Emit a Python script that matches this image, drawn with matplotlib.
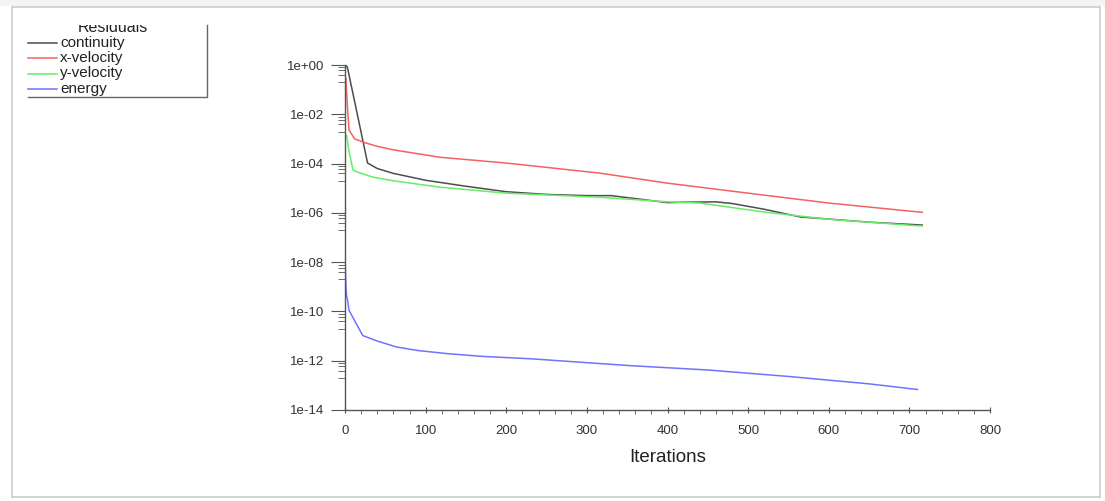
import numpy as np
import matplotlib.pyplot as plt
from matplotlib.lines import Line2D
from matplotlib.patches import Rectangle
from matplotlib.ticker import FixedLocator, MultipleLocator

plt.rcParams['font.family'] = ['Liberation Sans', 'DejaVu Sans']

# residuals (iteration, value)
it_cont = [0, 1, 3, 28, 40, 60, 100, 150, 200, 250, 300, 330, 360, 400, 420, 460, 480, 520, 565, 600, 650, 716]
continuity = [1.0, 1.0, 8e-1, 1.05e-4, 6.3e-5, 4.0e-5, 2.1e-5, 1.2e-5, 7.2e-6, 5.6e-6, 5.0e-6, 5.0e-6, 3.8e-6, 2.6e-6, 2.7e-6, 2.8e-6, 2.4e-6, 1.4e-6, 6.8e-7, 5.6e-7, 4.2e-7, 3.2e-7]

it_xvel = [0, 1, 3, 5, 12, 25, 40, 60, 118, 200, 316, 400, 500, 600, 716]
x_velocity = [2.5e-1, 3e-1, 2e-2, 2.3e-3, 1.0e-3, 7.0e-4, 5.0e-4, 3.6e-4, 1.8e-4, 1.05e-4, 4.1e-5, 1.6e-5, 6.3e-6, 2.5e-6, 1.05e-6]

it_yvel = [0, 2, 5, 10, 20, 35, 60, 118, 200, 316, 400, 440, 523, 600, 716]
y_velocity = [1.2e-3, 1.4e-3, 3e-4, 5.4e-5, 4.0e-5, 2.8e-5, 2.0e-5, 1.1e-5, 6.3e-6, 4.3e-6, 2.8e-6, 2.5e-6, 1.05e-6, 5.5e-7, 2.9e-7]

it_energy = [0, 1, 2, 3, 5, 22, 40, 64, 90, 126, 170, 230, 354, 450, 550, 650, 710]
energy = [2.2e-8, 1.3e-9, 4.0e-10, 3.2e-10, 1.1e-10, 1.05e-11, 6.3e-12, 3.6e-12, 2.6e-12, 1.95e-12, 1.5e-12, 1.2e-12, 6.3e-13, 4.2e-13, 2.3e-13, 1.15e-13, 6.8e-14]

series = [
    ('continuity', it_cont, continuity, '#4d4d4d'),
    ('x-velocity', it_xvel, x_velocity, '#f26262'),
    ('y-velocity', it_yvel, y_velocity, '#66ee66'),
    ('energy', it_energy, energy, '#7272ff'),
]

fig = plt.figure(figsize=(11.05, 5.01), dpi=100)
ax = fig.add_axes([345 / 1105, 1 - 410 / 501, 645 / 1105, 345 / 501])

for name, x, y, col in series:
    ax.plot(x, y, color=col, lw=1.1)

ax.set_yscale('log')
ax.set_xlim(0, 800)
ax.set_ylim(1e-14, 1)

ax.set_yticks([10.0 ** -k for k in range(0, 15, 2)])
ax.set_yticklabels(['1e+00', '1e-02', '1e-04', '1e-06', '1e-08', '1e-10', '1e-12', '1e-14'])
minors = [f * 10.0 ** -k for k in range(0, 13, 2) for f in (0.8, 0.6, 0.4, 0.2)]
ax.yaxis.set_minor_locator(FixedLocator(minors))
ax.yaxis.set_minor_formatter(plt.NullFormatter())
ax.xaxis.set_major_locator(MultipleLocator(100))
ax.xaxis.set_minor_locator(MultipleLocator(20))

for s in ['top', 'right']:
    ax.spines[s].set_visible(False)
for s in ['left', 'bottom']:
    ax.spines[s].set_color('#555555')
    ax.spines[s].set_linewidth(1.0)

ax.tick_params(axis='y', which='major', length=10, color='#555555', labelsize=9.5, labelcolor='#333333', pad=5)
ax.tick_params(axis='y', which='minor', length=5, color='#555555')
ax.tick_params(axis='x', which='major', length=5, color='#555555', direction='inout', labelsize=9.5, labelcolor='#333333', pad=8)
ax.tick_params(axis='x', which='minor', length=3, color='#555555')
ax.set_xlabel('Iterations', fontsize=13.5, color='#222222', labelpad=9)

# legend drawn like the solver window
H = 501.0
W = 1105.0
def fx(px):
    return px / W
def fy(py):
    return 1 - py / H

title = fig.text(fx(113), fy(32), 'Residuals', ha='center', va='baseline', fontsize=11.5, color='#222222')
clip = Rectangle((0, fy(501)), 1, fy(24.5) - fy(501), transform=fig.transFigure, visible=False)
fig.add_artist(clip)
title.set_clip_path(clip)

for i, (name, x, y, col) in enumerate(series):
    yy = 42.5 + i * 15.5
    fig.add_artist(Line2D([fx(28), fx(57)], [fy(yy), fy(yy)], color=col, lw=1.1, transform=fig.transFigure))
    fig.text(fx(60), fy(yy), name, ha='left', va='center', fontsize=11, color='#222222')
fig.add_artist(Line2D([fx(28), fx(207), fx(207)], [fy(97), fy(97), fy(25)], color='#666666', lw=1.0, transform=fig.transFigure))

# screenshot frame
fig.add_artist(Rectangle((fx(12), fy(497)), fx(1100) - fx(12), fy(7) - fy(497), transform=fig.transFigure,
                         fill=False, edgecolor='#cccccc', lw=1.2))
fig.add_artist(Rectangle((0, fy(6)), 1, 1 - fy(6), transform=fig.transFigure, color='#f4f4f4', lw=0))

fig.savefig('out.png', dpi=100)
